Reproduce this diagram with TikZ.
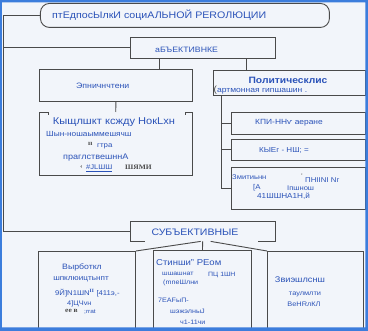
\documentclass[tikz,border=0pt]{standalone}
\usepackage{fontspec}
\setmainfont{Liberation Sans}[FakeStretch=1.12]
\newfontfamily\serifbold{Liberation Serif}[FakeStretch=1.1,BoldFont={Liberation Serif Bold}]
\newcommand\fsz[1]{\fontsize{#1}{#1}\selectfont}
\definecolor{bg}{HTML}{F2F5FA}
\definecolor{frameblue}{HTML}{3C7DDC}
\definecolor{txt}{HTML}{2A52B8}
\definecolor{edge}{HTML}{4A4A4A}
\begin{document}
\begin{tikzpicture}[x=1pt,y=-1pt,
  box/.style={draw=edge,line width=0.9pt,inner sep=0pt,anchor=north west},
  openbox/.style={inner sep=0pt,anchor=north west},
  conn/.style={draw=edge,line width=0.9pt},
  lbl/.style={text=txt,inner sep=0pt,anchor=west},
  clbl/.style={text=txt,inner sep=0pt,anchor=center},
  sb/.style={text=edge,inner sep=0pt,anchor=west,font=\serifbold\bfseries\fsz{6.8}}]
\useasboundingbox (0,0) rectangle (368,331);
\fill[bg] (0,0) rectangle (368,331);

% boxes
\node[box, rounded corners=9pt, minimum width=289pt, minimum height=24pt] (title) at (40,3) {};
\node[box, minimum width=145pt, minimum height=21pt] (obj) at (130,37) {};
\node[box, minimum width=153pt, minimum height=32pt] (epn) at (39,69) {};
\node[openbox, minimum width=153pt, minimum height=63pt] (kysh) at (39,112) {};
\node[box, minimum width=152pt, minimum height=25pt] (pol) at (213,70) {};
\node[box, minimum width=134pt, minimum height=22pt] (sub1) at (231,112) {};
\node[box, minimum width=134pt, minimum height=21pt] (sub2) at (231,139) {};
\node[box, minimum width=134pt, minimum height=42pt] (sub3) at (231,167) {};
\node[openbox, minimum width=145pt, minimum height=20pt] (subj) at (130,221) {};
\node[box, minimum width=97pt, minimum height=80pt] (left) at (38,251) {};
\node[box, minimum width=98pt, minimum height=80pt] (mid) at (153,250) {};
\node[box, minimum width=96pt, minimum height=80pt] (right) at (267,251) {};

% open outlines
\draw[conn] (kysh.north west) ++(9,3) -- ++(0,-3) -- (kysh.north west) -- (kysh.south west)
  -- (kysh.south east) -- (kysh.north east) -- ++(-7,0) -- ++(0,3);
\draw[conn] (subj.south west) ++(15,0) -- (subj.south west) -- (subj.north west)
  -- (subj.north east) -- (subj.south east) -- ++(-17,0);

% connectors
\coordinate (sp1) at (3,15);
\coordinate (sp3) at (3,231);
\draw[conn] (title.west) -- (title.west -| sp1) -- (sp3) -- (sp3 -| subj.west);
\draw[conn] (obj.west) -- (obj.west -| sp1);
\draw[conn] (obj.south west) ++(29,0) coordinate (oa) -- (oa |- epn.north);
\draw[conn] (obj.south east) ++(-29,0) coordinate (ob) -- (ob |- pol.north);
\draw[conn] (epn.south) -- (kysh.north);
\draw[conn] (pol.south west) ++(8,0) coordinate (pa) |- (sub3.west);
\draw[conn] (pa |- sub1.west) -- (sub1.west);
\draw[conn] (pa |- sub2.west) -- (sub2.west);
\draw[conn] (subj.south) -- (mid.north);
\draw[conn] ([xshift=-2pt]subj.south) -- (left.north east);
\draw[conn] ([xshift=8pt]subj.south) -- (right.north west);

% texts
\node[lbl, font=\fsz{9.5}] (t0) at (52,15.5) {птЕдпосЫлкИ социАЛЬНОЙ РЕRОЛЮЦИИ};
\node[lbl, font=\fsz{7.8}] (t1) at (155,50) {аБЪЕКТИВНКЕ};
\node[lbl, font=\fsz{7.8}] (t2) at (76,86) {Эпничнчтени};

\node[clbl, font=\fsz{9.9}] (k1) at (114,122) {Кыщлшкт ксжду НокLхн};
\node[lbl, font=\fsz{7.4}] (k2) at (46,134) {Шын-ношаыммешячш};
\node[sb] (k3) at (88,144) {ıı};
\node[lbl, font=\fsz{7}] (k4) at (97,146.5) {гтра};
\node[lbl, font=\fsz{8.1}] (k5) at (63,158) {праглствешннА};
\node[sb] (k6) at (80,167) {‹};
\node[lbl, font=\fsz{6.8}] (k7) at (86,168) {\underline{\#ЈLШШ}};
\node[sb] (k8) at (125,167) {ШЯМИ};

\node[clbl, font=\bfseries\fsz{9.2}] (p1) at (288,80) {Политическлис};
\node[lbl, font=\fsz{9}, text=edge] (p2) at (213.5,90) {(};
\node[lbl, font=\fsz{7.6}] (p3) at (217,91) {артмонная гипшашин .};
\node[clbl, font=\fsz{7.5}] (s1) at (289,123) {КПИ-ННѵ аеране};
\node[clbl, font=\fsz{7.2}] (s2) at (284,150) {КЫЕг - НШ; =};
\node[lbl, font=\fsz{6.8}] (s3) at (232,177) {Змитиьнн};
\node[lbl, font=\fsz{6.5}, text=edge] (s4) at (301,176) {'};
\node[lbl, font=\fsz{7}] (s5) at (305,180) {ПНIINI Nг};
\node[lbl, font=\fsz{7}] (s6) at (253,188) {[А};
\node[lbl, font=\fsz{6.8}] (s7) at (287,188) {Iпшнош};
\node[lbl, font=\fsz{7.3}] (s8) at (257,196) {41ШШНА1Н,й};

\node[clbl, font=\fsz{9.4}] (u1) at (195,232) {СУБЪЕКТИВНЫЕ};

\node[clbl, font=\fsz{7.8}] (a1) at (82,267) {Вырботкл};
\node[clbl, font=\fsz{7.3}] (a2) at (81,279) {шпклюицтьнпт};
\node[lbl, font=\fsz{6.9}] (a3) at (55,293) {9Й]N1ШN\textsuperscript{\serifbold\bfseries II} [411э,-};
\node[lbl, font=\fsz{6.6}] (a4) at (67,304) {4]ЦЧvн};
\node[sb] (a5) at (65,311) {ее в};
\node[lbl, font=\fsz{5.8}] (a6) at (84,311.5) {;rrat};

\node[lbl, font=\fsz{8.5}] (m1) at (156,263) {Стинши” РЕом};
\node[lbl, font=\fsz{6.2}] (m2) at (162,274) {шшашнат};
\node[lbl, font=\fsz{6.2}] (m3) at (208,275) {ПЦ 1ШН};
\node[lbl, font=\fsz{6.4}] (m4) at (163,283) {(mneШлни};
\node[lbl, font=\fsz{6.4}] (m5) at (158,300) {7ЕАFыП-};
\node[lbl, font=\fsz{6.4}] (m6) at (170,311) {шэжэлныЈ};
\node[lbl, font=\fsz{6.4}] (m7) at (180,322) {ч1-11чи};

\node[clbl, font=\fsz{8.2}] (r1) at (300,280) {Звиэшлснш};
\node[clbl, font=\fsz{6.6}] (r2) at (305,294) {таулмлти};
\node[clbl, font=\fsz{6.6}] (r3) at (304,304) {ВеНRлКЛ};

% outer blue frame
\fill[frameblue, even odd rule] (0,0) rectangle (368,331) (2,2.5) rectangle (365.5,327.5);
\end{tikzpicture}
\end{document}
